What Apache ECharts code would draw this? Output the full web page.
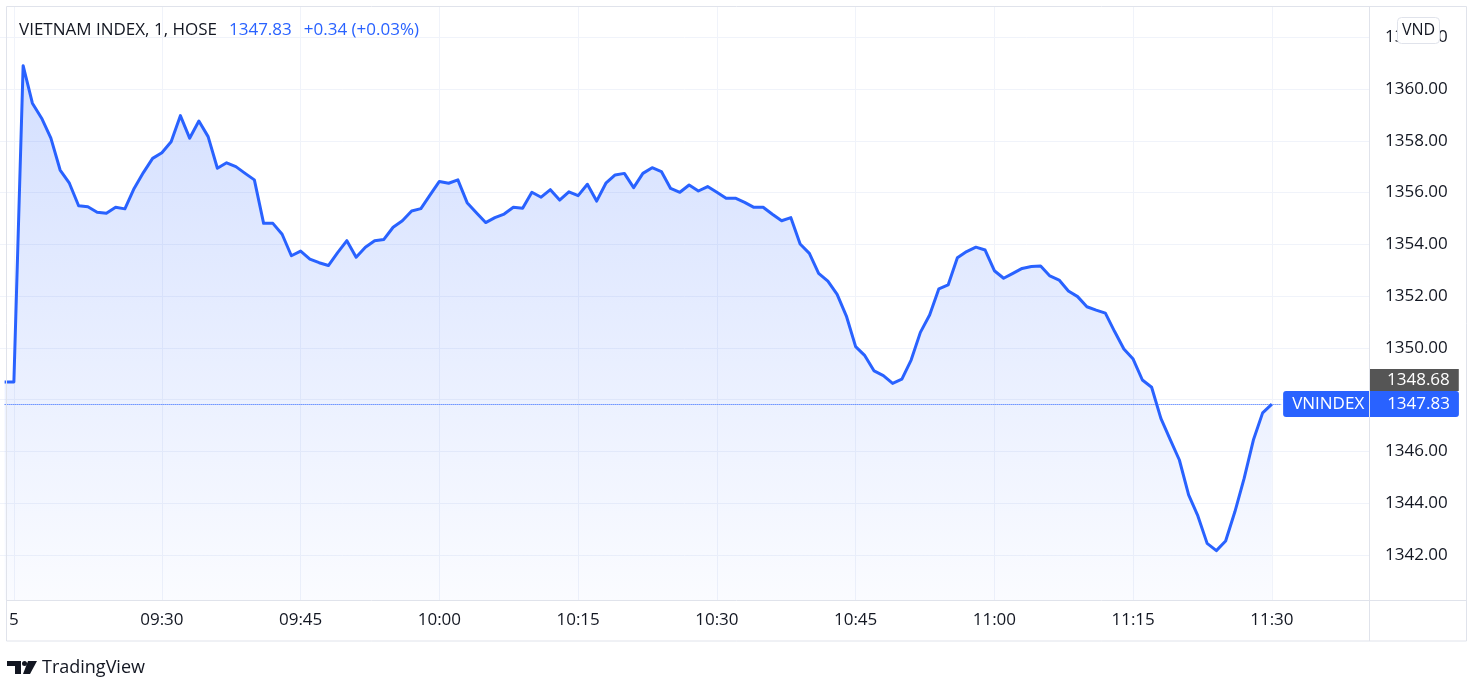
<!DOCTYPE html>
<html lang="en">
<head>
	<meta charset="UTF-8">
	<title>VIETNAM INDEX, 1, HOSE</title>
	<script src="https://cdn.jsdelivr.net/npm/echarts@6/dist/echarts.min.js"></script>
	<style>
		html, body { margin: 0; padding: 0; background: #fff; }
		#main { width: 1481px; height: 695px; }
	</style>
</head>
<body>
	<div id="main"></div>
	<script>
		// bars: last bar of the previous session, the 09:00 opening bar, then one bar a minute
		function minuteLabels (from, to) {
			var res = []
			var a = from.split(':'), b = to.split(':')
			var start = +a[0] * 60 + +a[1], end = +b[0] * 60 + +b[1]
			for (var m = start; m <= end; m++) {
				var h = Math.floor(m / 60), mm = m % 60
				res.push((h < 10 ? '0' : '') + h + ':' + (mm < 10 ? '0' : '') + mm)
			}
			return res
		}

		var times = ['14:45', '09:00'].concat(minuteLabels('09:15', '11:40'))

		var prices = [
			1348.68, 1348.68,
			1360.90, 1359.45, 1358.87, 1358.10, 1356.87, 1356.36, 1355.49, 1355.45, 1355.24, 1355.20,
			1355.43, 1355.37, 1356.16, 1356.77, 1357.32, 1357.54, 1357.96, 1358.97, 1358.10, 1358.76,
			1358.16, 1356.94, 1357.15, 1357.00, 1356.74, 1356.49, 1354.81, 1354.81, 1354.39, 1353.56,
			1353.74, 1353.43, 1353.29, 1353.18, 1353.68, 1354.14, 1353.50, 1353.89, 1354.14, 1354.19,
			1354.66, 1354.91, 1355.29, 1355.38, 1355.91, 1356.43, 1356.36, 1356.49, 1355.61, 1355.22,
			1354.84, 1355.03, 1355.17, 1355.43, 1355.39, 1356.01, 1355.82, 1356.11, 1355.71, 1356.03,
			1355.88, 1356.32, 1355.67, 1356.36, 1356.68, 1356.74, 1356.19, 1356.74, 1356.96, 1356.81,
			1356.16, 1356.01, 1356.29, 1356.06, 1356.23, 1356.01, 1355.78, 1355.78, 1355.62, 1355.43,
			1355.43, 1355.16, 1354.91, 1355.03, 1354.01, 1353.65, 1352.88, 1352.58, 1352.07, 1351.23,
			1350.05, 1349.70, 1349.11, 1348.93, 1348.63, 1348.79, 1349.53, 1350.60, 1351.27, 1352.28,
			1352.43, 1353.48, 1353.72, 1353.89, 1353.78, 1352.98, 1352.69, 1352.88, 1353.07, 1353.14,
			1353.16, 1352.78, 1352.62, 1352.20, 1351.98, 1351.59, 1351.46, 1351.34, 1350.63, 1349.96,
			1349.57, 1348.76, 1348.48, 1347.28, 1346.47, 1345.67, 1344.32, 1343.51, 1342.45, 1342.17,
			1342.54, 1343.67, 1344.96, 1346.44, 1347.49, 1347.83
		]

		var prevClose = 1348.68
		var xTicks = ['09:00', '09:30', '09:45', '10:00', '10:15', '10:30', '10:45', '11:00', '11:15', '11:30']
		var xTickText = ['5', '09:30', '09:45', '10:00', '10:15', '10:30', '10:45', '11:00', '11:15', '11:30']
		var yMin = 1340, yMax = 1362, yStep = 2

		var FONT = "'Open Sans', sans-serif"
		var GRID_LINE = '#f0f3fa'
		var BORDER = '#e0e3eb'
		var BLUE = '#2962FF'

		var last = prices[prices.length - 1]
		var change = last - prices[prices.length - 2]
		var changePct = change / prices[prices.length - 2] * 100
		var changeText = (change >= 0 ? '+' : '') + change.toFixed(2) + ' (' + (changePct >= 0 ? '+' : '') + changePct.toFixed(2) + '%)'

		// the lowest grid line sits under the time scale, keep it hidden
		var ySplitColors = []
		for (var i = 0; i <= (yMax - yMin) / yStep; i++) {
			ySplitColors.push(i === 0 ? 'rgba(0,0,0,0)' : GRID_LINE)
		}

		function isTick (index, value) {
			return xTicks.indexOf(value) >= 0
		}

		var myChart = echarts.init(document.getElementById('main'))

		var option = {
			animation: false,
			backgroundColor: '#fff',
			textStyle: { fontFamily: FONT },
			title: [
				{
					left: 19,
					top: 22,
					padding: 0,
					text: '{n|VIETNAM INDEX, 1, HOSE}{v|' + last.toFixed(2) + '}{c|' + changeText + '}',
					textStyle: {
						fontWeight: 'normal',
						rich: {
							n: { fontFamily: FONT, fontSize: 17, fontWeight: 'normal', color: '#131722' },
							v: { fontFamily: FONT, fontSize: 17, fontWeight: 'normal', color: BLUE, padding: [0, 0, 0, 12] },
							c: { fontFamily: FONT, fontSize: 17, fontWeight: 'normal', color: BLUE, padding: [0, 0, 0, 12] }
						}
					}
				},
				{
					left: 1397,
					top: 17,
					text: 'VND',
					padding: [4, 5],
					backgroundColor: '#fff',
					borderColor: BORDER,
					borderWidth: 1,
					borderRadius: 4,
					textStyle: { fontFamily: FONT, fontSize: 16, fontWeight: 'normal', color: '#131722', lineHeight: 19 }
				}
			],
			grid: [
				// price pane: 1340 at the foot, 1362 near the top, same scale as the picture
				{ left: 0, right: 112, top: 37.2, bottom: 88.2 },
				// time scale pane
				{ left: 0, right: 112, top: 6, bottom: 95 }
			],
			xAxis: [
				{
					type: 'category',
					gridIndex: 0,
					data: times,
					boundaryGap: true,
					show: false
				},
				{
					type: 'category',
					gridIndex: 1,
					data: times,
					boundaryGap: true,
					axisLine: { show: false },
					axisTick: { show: false, alignWithLabel: true },
					axisLabel: {
						interval: isTick,
						margin: 12,
						fontFamily: FONT,
						fontSize: 17,
						color: '#131722',
						formatter: function (v) {
							var k = xTicks.indexOf(v)
							return k >= 0 ? xTickText[k] : ''
						}
					},
					splitLine: {
						show: true,
						interval: isTick,
						alignWithLabel: true,
						lineStyle: { color: GRID_LINE, width: 1 }
					}
				}
			],
			yAxis: [
				{
					type: 'value',
					gridIndex: 0,
					position: 'right',
					min: yMin,
					max: yMax,
					interval: yStep,
					axisLine: { show: false },
					axisTick: { show: false },
					axisLabel: {
						margin: 16,
						showMinLabel: false,
						fontFamily: FONT,
						fontSize: 17,
						color: '#131722',
						formatter: function (v) { return v.toFixed(2) }
					},
					splitLine: { show: true, lineStyle: { color: ySplitColors, width: 1 } }
				},
				{
					type: 'value',
					gridIndex: 1,
					min: 0,
					max: 1,
					show: false,
					splitLine: { show: false }
				}
			],
			series: [
				{
					name: 'VNINDEX',
					type: 'line',
					xAxisIndex: 0,
					yAxisIndex: 0,
					data: prices,
					symbol: 'none',
					smooth: false,
					clip: false,
					lineStyle: { color: BLUE, width: 3, join: 'round' },
					itemStyle: { color: BLUE },
					areaStyle: {
						origin: 1340.26,
						color: new echarts.graphic.LinearGradient(0, 0, 0, 1, [
							{ offset: 0, color: 'rgba(41, 98, 255, 0.29)' },
							{ offset: 1, color: 'rgba(41, 98, 255, 0.03)' }
						])
					},
					markLine: {
						silent: true,
						symbol: ['none', 'none'],
						animation: false,
						data: [
							{
								yAxis: prevClose,
								lineStyle: { color: 'rgba(0,0,0,0)', width: 0 },
								label: {
									show: true,
									position: 'end',
									distance: 1,
									formatter: prevClose.toFixed(2),
									backgroundColor: '#555555',
									color: '#fff',
									fontFamily: FONT,
									fontSize: 17,
									lineHeight: 16,
									padding: [3, 9, 3, 17],
									offset: [0, -2]
								}
							},
							[
								{ coord: [0, last], lineStyle: { color: BLUE, type: 'dotted', width: 1, opacity: 1 } },
								{
									coord: [138, last],
									lineStyle: { color: BLUE, type: 'dotted', width: 1, opacity: 1 },
									label: {
										show: true,
										position: 'end',
										distance: 2,
										formatter: '{a|VNINDEX}{b|' + last.toFixed(2) + '}',
										backgroundColor: BLUE,
										borderRadius: 3,
										padding: [5, 9, 5, 9],
										rich: {
											a: { color: '#fff', fontFamily: FONT, fontSize: 17, lineHeight: 16, width: 95 },
											b: { color: '#fff', fontFamily: FONT, fontSize: 17, lineHeight: 16 }
										}
									}
								}
							]
						]
					}
				}
			],
			graphic: [
				// chart frame, time scale divider and price scale divider
				{ type: 'rect', z: 10, silent: true, shape: { x: 6.5, y: 6.5, width: 1460, height: 634.5 }, style: { fill: null, stroke: BORDER, lineWidth: 1 } },
				{ type: 'line', z: 10, silent: true, shape: { x1: 6.5, y1: 600.5, x2: 1466.5, y2: 600.5 }, style: { stroke: BORDER, lineWidth: 1 } },
				{ type: 'line', z: 10, silent: true, shape: { x1: 1369.5, y1: 6.5, x2: 1369.5, y2: 641 }, style: { stroke: BORDER, lineWidth: 1 } },
				// TradingView mark
				{ type: 'polygon', z: 10, silent: true, shape: { points: [[7, 661], [21, 661], [21, 674], [15, 674], [15, 666], [7, 666]] }, style: { fill: '#131722' } },
				{ type: 'circle', z: 10, silent: true, shape: { cx: 24.5, cy: 663.5, r: 2.5 }, style: { fill: '#131722' } },
				{ type: 'polygon', z: 10, silent: true, shape: { points: [[28, 661], [37, 661], [30, 674], [23, 674]] }, style: { fill: '#131722' } },
				{ type: 'text', z: 10, silent: true, left: 42, top: 659, style: { text: 'TradingView', fill: '#131722', font: '18px ' + FONT } }
			]
		}

		myChart.setOption(option)
	</script>
</body>
</html>
